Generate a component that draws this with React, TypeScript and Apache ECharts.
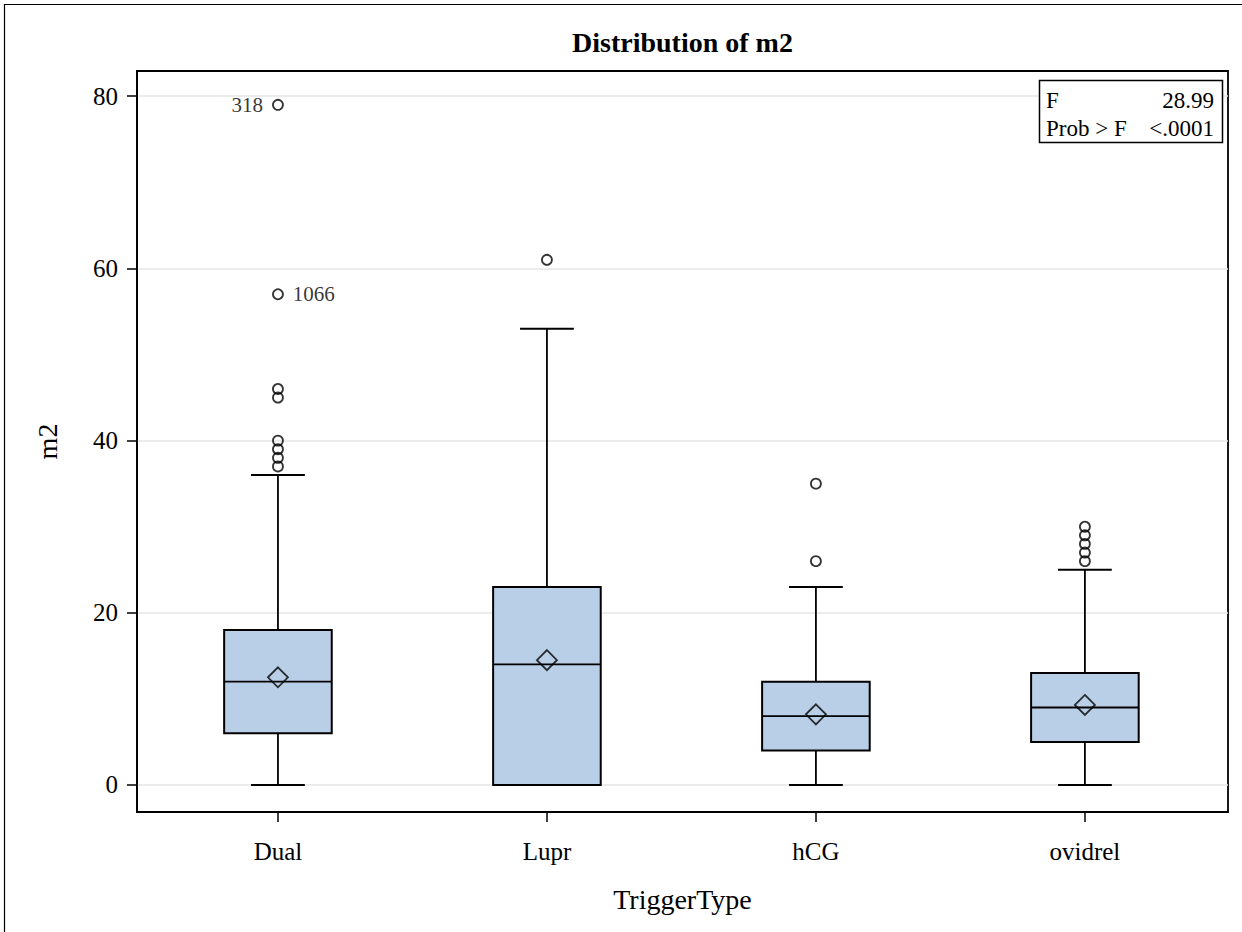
import React, { useEffect, useRef } from "react";
import * as echarts from "echarts";

// ---- data ----
const categories = ["Dual", "Lupr", "hCG", "ovidrel"];
const mins = [0, 0, 0, 0];
const q1s = [6, 0, 4, 5];
const medians = [12, 14, 8, 9];
const q3s = [18, 23, 12, 13];
const maxs = [36, 53, 23, 25];
const means = [12.5, 14.5, 8.2, 9.3];

const outlierCat = [0, 0, 0, 0, 0, 0, 0, 0, 1, 2, 2, 3, 3, 3, 3, 3];
const outlierVal = [37, 38, 39, 40, 45, 46, 57, 79, 61, 26, 35, 26, 27, 28, 29, 30];
const outlierId = ["", "", "", "", "", "", "1066", "318", "", "", "", "", "", "", "", ""];

const yTicks = [0, 20, 40, 60, 80];
const xTicks = [0, 1, 2, 3];

const statLabels = ["F", "Prob > F"];
const statValues = ["28.99", "<.0001"];

// ---- styles ----
const FONT = '"Liberation Serif", "Times New Roman", serif';
const BOX_FILL = "#b9cfe7";
const BOX_W = 0.4;
const CAP_W = 0.2;
const labelSide: Record<string, string> = { "318": "left", "1066": "right" };

export default function App() {
  const ref = useRef<HTMLDivElement>(null);

  useEffect(() => {
    if (!ref.current) return;
    const chart = echarts.init(ref.current, undefined, { renderer: "svg" });

    const boxData = categories.map((_, i) => [i, mins[i], q1s[i], medians[i], q3s[i], maxs[i]]);
    const outlierData = outlierVal.map((v, i) => {
      const id = outlierId[i];
      const item: any = { value: [outlierCat[i], v] };
      if (id) {
        item.label = {
          show: true,
          formatter: id,
          position: labelSide[id] || "right",
          distance: 9,
          fontFamily: FONT,
          fontSize: 21,
          color: "#000",
        };
      }
      return item;
    });
    const meanData = means.map((m, i) => [i, m]);

    const ls = { stroke: "#000", lineWidth: 1.8 };
    const cap = { stroke: "#000", lineWidth: 2 };
    const axisLine = { show: true, onZero: false, lineStyle: { color: "#000", width: 1.8 } };

    const option: any = {
      animation: false,
      backgroundColor: "#fff",
      grid: {
        left: 137,
        top: 71,
        width: 1091,
        height: 741,
        show: true,
        borderColor: "#000",
        borderWidth: 1.8,
        backgroundColor: "transparent",
        containLabel: false,
      },
      xAxis: {
        type: "value",
        min: -0.524,
        max: 3.532,
        name: "TriggerType",
        nameLocation: "middle",
        nameGap: 73,
        nameTextStyle: { fontFamily: FONT, fontSize: 28, color: "#000" },
        axisLine,
        axisTick: { show: true, customValues: xTicks, length: 10, lineStyle: { color: "#000", width: 1.5 } },
        axisLabel: {
          customValues: xTicks,
          formatter: (v: number) => categories[Math.round(v)] ?? "",
          fontFamily: FONT,
          fontSize: 25,
          color: "#000",
          margin: 27,
        },
        splitLine: { show: false },
      },
      yAxis: {
        type: "value",
        min: -3.14,
        max: 82.93,
        name: "m2",
        nameLocation: "middle",
        nameRotate: 90,
        nameGap: 76,
        nameTextStyle: { fontFamily: FONT, fontSize: 28, color: "#000" },
        axisLine,
        axisTick: { show: true, customValues: yTicks, length: 10, lineStyle: { color: "#000", width: 1.5 } },
        axisLabel: {
          customValues: yTicks,
          fontFamily: FONT,
          fontSize: 25,
          color: "#000",
          margin: 19,
        },
        splitLine: { show: true, lineStyle: { color: "#e6e6e6", width: 1.5 } },
      },
      series: [
        {
          type: "custom",
          data: boxData,
          encode: { x: 0, y: [1, 2, 3, 4, 5] },
          z: 2,
          renderItem: (_params: any, api: any) => {
            const x = api.value(0);
            const lo = api.coord([x, api.value(1)]);
            const q1 = api.coord([x, api.value(2)]);
            const md = api.coord([x, api.value(3)]);
            const q3 = api.coord([x, api.value(4)]);
            const hi = api.coord([x, api.value(5)]);
            const bw = api.size([BOX_W, 0])[0];
            const cw = api.size([CAP_W, 0])[0];
            const cx = lo[0];
            return {
              type: "group",
              children: [
                { type: "line", shape: { x1: cx, y1: hi[1], x2: cx, y2: q3[1] }, style: ls },
                { type: "line", shape: { x1: cx, y1: q1[1], x2: cx, y2: lo[1] }, style: ls },
                { type: "line", shape: { x1: cx - cw / 2, y1: hi[1], x2: cx + cw / 2, y2: hi[1] }, style: cap },
                { type: "line", shape: { x1: cx - cw / 2, y1: lo[1], x2: cx + cw / 2, y2: lo[1] }, style: cap },
                {
                  type: "rect",
                  shape: { x: cx - bw / 2, y: q3[1], width: bw, height: q1[1] - q3[1] },
                  style: { fill: BOX_FILL, stroke: "#000", lineWidth: 2 },
                },
                { type: "line", shape: { x1: cx - bw / 2, y1: md[1], x2: cx + bw / 2, y2: md[1] }, style: ls },
              ],
            };
          },
        },
        {
          type: "scatter",
          data: meanData,
          symbol: "diamond",
          symbolSize: [20, 20],
          z: 3,
          itemStyle: { color: "rgba(0,0,0,0)", borderColor: "#000", borderWidth: 1.8 },
        },
        {
          type: "scatter",
          data: outlierData,
          symbol: "circle",
          symbolSize: 10,
          z: 3,
          itemStyle: { color: "rgba(0,0,0,0)", borderColor: "#000", borderWidth: 1.8 },
        },
      ],
      graphic: [
        {
          type: "rect",
          shape: { x: 4.5, y: 4.5, width: 1300, height: 1000 },
          style: { fill: "none", stroke: "#000", lineWidth: 1.2 },
          silent: true,
        },
        {
          type: "text",
          x: 682.5,
          y: 42.5,
          style: {
            text: "Distribution of m2",
            fontFamily: FONT,
            fontSize: 28,
            fontWeight: "bold",
            fill: "#000",
            align: "center",
            verticalAlign: "middle",
          },
        },
        {
          type: "rect",
          shape: { x: 1039.5, y: 80.5, width: 183, height: 62 },
          style: { fill: "#fff", stroke: "#000", lineWidth: 1.5 },
          z: 10,
        },
        ...statLabels.map((t, i) => ({
          type: "text",
          x: 1046,
          y: 100 + i * 28.5,
          z: 11,
          style: { text: t, fontFamily: FONT, fontSize: 23, fill: "#000", align: "left", verticalAlign: "middle" },
        })),
        ...statValues.map((t, i) => ({
          type: "text",
          x: 1214,
          y: 100 + i * 28.5,
          z: 11,
          style: { text: t, fontFamily: FONT, fontSize: 23, fill: "#000", align: "right", verticalAlign: "middle" },
        })),
      ],
    };

    chart.setOption(option);
    return () => chart.dispose();
  }, []);

  return (
    <div
      ref={ref}
      style={{ position: "absolute", left: 0, top: 0, width: 1242, height: 932 }}
    />
  );
}
